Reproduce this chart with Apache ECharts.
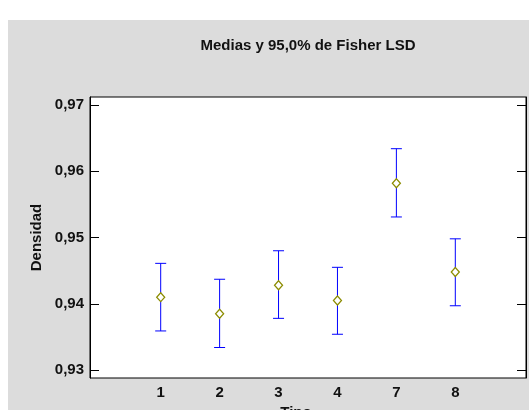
<!DOCTYPE html>
<html>
<head>
<meta charset="utf-8">
<script src="https://cdn.jsdelivr.net/npm/echarts@6/dist/echarts.min.js"></script>
<style>
  html, body { margin: 0; padding: 0; background: #ffffff; }
  #chart { width: 529px; height: 410px; }
</style>
</head>
<body>
<div id="chart"></div>
<script>
// Group labels along the horizontal axis
const tipos = ['1', '2', '3', '4', '7', '8'];
// Group means of density and their 95% Fisher LSD intervals
const medias = [0.9410, 0.9385, 0.9428, 0.9405, 0.9582, 0.9448];
const inferior = [0.9359, 0.9334, 0.9378, 0.9354, 0.9531, 0.9397];
const superior = [0.9461, 0.9437, 0.9480, 0.9455, 0.9634, 0.9498];
// Y tick values
const yTicks = [0.93, 0.94, 0.95, 0.96, 0.97];

const posiciones = tipos.map((_, i) => i + 1);
const font = '"Liberation Sans", Arial, sans-serif';
const txt = { fontFamily: font, fontWeight: 'bold', fontSize: 15, color: '#111' };

const chart = echarts.init(document.getElementById('chart'), null, { renderer: 'canvas' });

const comma = v => v.toFixed(2).replace('.', ',');

const tickStyle = { show: true, inside: true, length: 9, customValues: yTicks, lineStyle: { color: '#000', width: 1 } };
const sideLine = { show: true, onZero: false, lineStyle: { color: '#000', width: 1 } };

chart.setOption({
  animation: false,
  backgroundColor: '#ffffff',
  graphic: [{
    type: 'rect',
    z: -10,
    shape: { x: 8, y: 20, width: 521, height: 390 },
    style: { fill: '#dcdcdc' }
  }],
  title: {
    text: 'Medias y 95,0% de Fisher LSD',
    left: 303,
    textAlign: 'center',
    top: 33,
    textStyle: txt
  },
  grid: {
    left: 90, top: 97, right: 3, bottom: 32,
    outerBoundsMode: 'none',
    containLabel: false,
    show: true, backgroundColor: '#ffffff', borderColor: '#000', borderWidth: 1
  },
  xAxis: {
    type: 'value',
    min: -0.2,
    max: 7.2,
    name: 'Tipo',
    nameLocation: 'middle',
    nameGap: 26,
    nameTextStyle: Object.assign({ padding: [0, 24, 0, 0] }, txt),
    axisLine: { show: false },
    axisTick: { show: false },
    splitLine: { show: false },
    axisLabel: Object.assign({
      customValues: posiciones,
      formatter: v => tipos[Math.round(v) - 1] || '',
      margin: 7
    }, txt)
  },
  yAxis: [{
    type: 'value',
    min: 0.9288,
    max: 0.9712,
    name: 'Densidad',
    nameLocation: 'middle',
    nameGap: 41,
    nameRotate: 90,
    nameTextStyle: txt,
    axisLine: sideLine,
    axisTick: tickStyle,
    splitLine: { show: false },
    axisLabel: Object.assign({ customValues: yTicks, formatter: comma, margin: 6 }, txt)
  }, {
    type: 'value',
    position: 'right',
    min: 0.9288,
    max: 0.9712,
    axisLine: sideLine,
    axisTick: tickStyle,
    splitLine: { show: false },
    axisLabel: { show: false }
  }],
  series: [{
    type: 'custom',
    data: posiciones.map((x, i) => [x, inferior[i], superior[i]]),
    renderItem: (params, api) => {
      const lo = api.coord([api.value(0), api.value(1)]);
      const hi = api.coord([api.value(0), api.value(2)]);
      const half = 5.5;
      const style = { stroke: '#0000ff', lineWidth: 1 };
      return {
        type: 'group',
        children: [
          { type: 'line', shape: { x1: lo[0], y1: lo[1], x2: hi[0], y2: hi[1] }, style },
          { type: 'line', shape: { x1: hi[0] - half, y1: hi[1], x2: hi[0] + half, y2: hi[1] }, style },
          { type: 'line', shape: { x1: lo[0] - half, y1: lo[1], x2: lo[0] + half, y2: lo[1] }, style }
        ]
      };
    },
    z: 2
  }, {
    type: 'scatter',
    data: posiciones.map((x, i) => [x, medias[i]]),
    symbol: 'diamond',
    symbolSize: [8, 9],
    itemStyle: { color: '#ffffff', borderColor: '#8c8c00', borderWidth: 1.3, opacity: 1 },
    z: 3
  }]
});
</script>
</body>
</html>
